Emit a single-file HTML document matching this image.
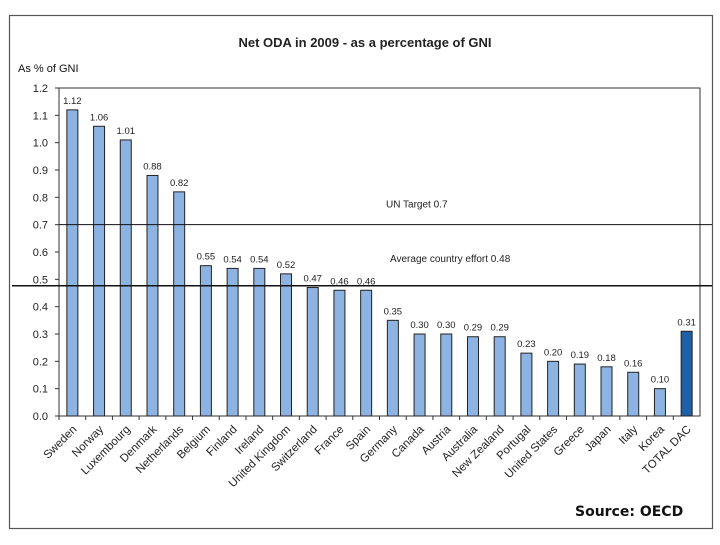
<!DOCTYPE html>
<html><head><meta charset="utf-8"><style>
body{margin:0;background:#fff;width:720px;height:540px;overflow:hidden;font-family:"Liberation Sans",Arial,sans-serif}
</style></head><body>
<svg id="chart" width="720" height="540" xmlns="http://www.w3.org/2000/svg">
<rect x="9.5" y="15.5" width="703" height="513" fill="#fff" stroke="#555" stroke-width="1.2"/>
<text x="365" y="47" font-size="13" font-weight="bold" text-anchor="middle" fill="#222">Net ODA  in 2009 - as a percentage  of GNI</text>
<text x="18" y="72" font-size="11" fill="#111">As % of GNI</text>
<g id="plot"></g>
<text x="575" y="516" font-size="14" font-weight="bold" font-family="DejaVu Sans,sans-serif" fill="#111">Source: OECD</text>
</svg>
<script>
const categories=["Sweden","Norway","Luxembourg","Denmark","Netherlands","Belgium","Finland","Ireland","United Kingdom","Switzerland","France","Spain","Germany","Canada","Austria","Australia","New Zealand","Portugal","United States","Greece","Japan","Italy","Korea","TOTAL DAC"];
const values=[1.12,1.06,1.01,0.88,0.82,0.55,0.54,0.54,0.52,0.47,0.46,0.46,0.35,0.30,0.30,0.29,0.29,0.23,0.20,0.19,0.18,0.16,0.10,0.31];
const yTicks=[0,0.1,0.2,0.3,0.4,0.5,0.6,0.7,0.8,0.9,1.0,1.1,1.2];
const unTarget=0.7;
const avgEffort=0.48;
const NS="http://www.w3.org/2000/svg";
const g=document.getElementById('plot');
const X0=59,X1=700,Y0=416,Y1=88;
const band=(X1-X0)/categories.length;
const y=v=>Y0-(v/1.2)*(Y0-Y1);
const xc=i=>X0+band*(i+0.5);
function mk(t,a,txt){const e=document.createElementNS(NS,t);for(const k in a)e.setAttribute(k,a[k]);if(txt!==undefined)e.textContent=txt;g.appendChild(e);return e;}
let e=mk('rect',{x:X0,y:Y1,width:X1-X0,height:Y0-Y1,fill:'none',stroke:'#333','stroke-width':1});


yTicks.forEach(t=>{
 let l=mk('line',{x1:X0-4,x2:X0,y1:y(t),y2:y(t),stroke:'#333'});
 
 
 let tx=mk('text',{x:X0-11,y:y(t)+4,'font-size':11,'text-anchor':'end',fill:'#222'},t.toFixed(1));
 
 
});
categories.forEach((c,i)=>{
 let tk=mk('line',{x1:X0+band*i,x2:X0+band*i,y1:Y0,y2:Y0+4,stroke:'#333'});
 
 
 const last=i===categories.length-1;
 let b=mk('rect',{x:xc(i)-5.5,y:y(values[i]),width:11,height:Y0-y(values[i]),fill:last?'#1f5fa8':'#8db3e2',stroke:'#222','stroke-width':1});
 
 
 let v=mk('text',{x:xc(i),y:y(values[i])-6,'font-size':9.5,'text-anchor':'middle',fill:'#222'},values[i].toFixed(2));
 
 
 let lb=mk('text',{x:0,y:0,'font-size':11.5,'text-anchor':'end',fill:'#222',transform:`translate(${xc(i)+5},${Y0+14}) rotate(-45)`},c);
 
 
});
let l1=mk('line',{x1:X0,x2:712,y1:y(unTarget),y2:y(unTarget),stroke:'#111','stroke-width':1});


let t1=mk('text',{x:386,y:y(unTarget)-17,'font-size':10,fill:'#222'},'UN Target 0.7');


let l2=mk('line',{x1:12,x2:712,y1:y(avgEffort)+1,y2:y(avgEffort)+1,stroke:'#111','stroke-width':1.5});


let t2=mk('text',{x:390,y:y(avgEffort)-23,'font-size':10,fill:'#222'},'Average country effort 0.48');


</script>
</body></html>
